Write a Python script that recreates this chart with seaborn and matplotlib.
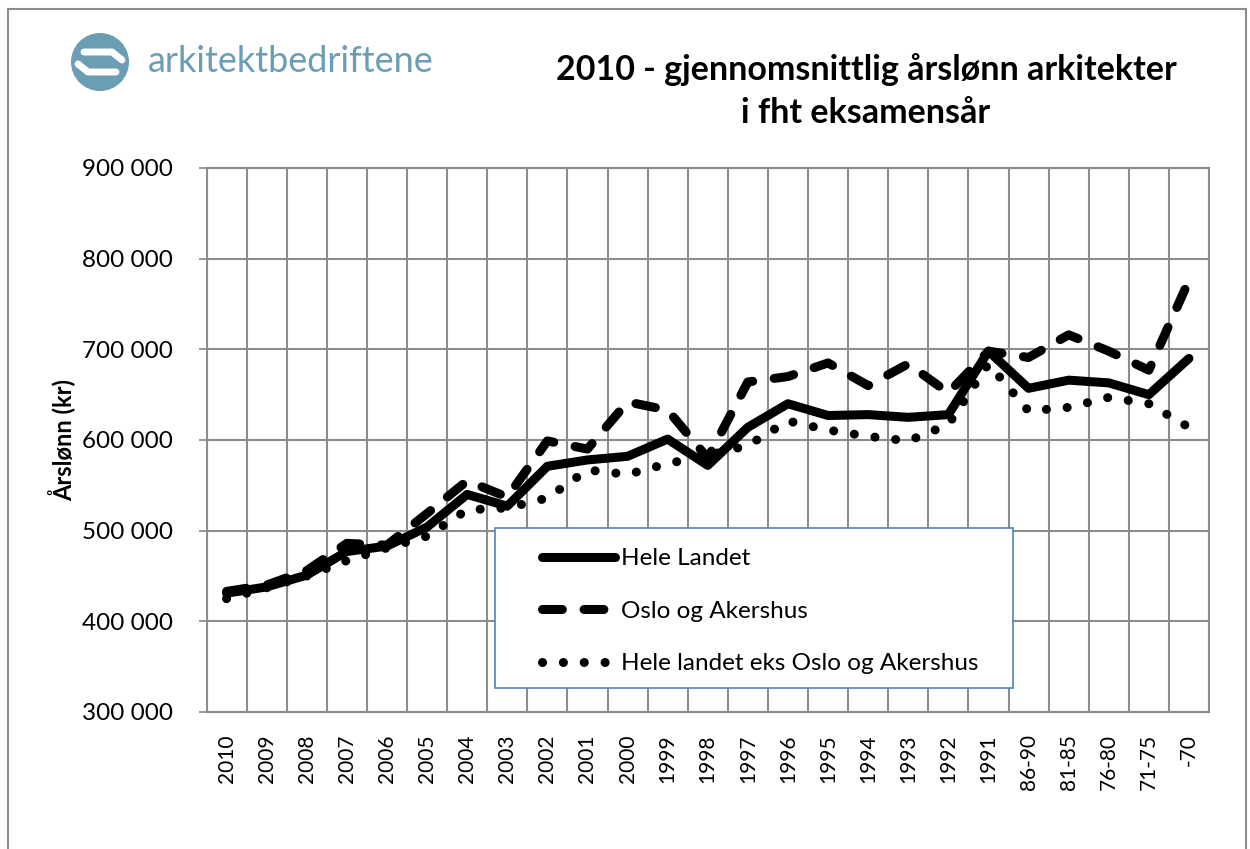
import matplotlib
matplotlib.use("Agg")
import matplotlib.pyplot as plt
import matplotlib.patches as mpatches
from matplotlib.lines import Line2D
from matplotlib.ticker import FuncFormatter, FixedLocator
import seaborn as sns
import numpy as np
import pandas as pd

# categories (eksamensår) and the three series
years = ['2010', '2009', '2008', '2007', '2006', '2005', '2004', '2003', '2002', '2001',
         '2000', '1999', '1998', '1997', '1996', '1995', '1994', '1993', '1992', '1991',
         '86-90', '81-85', '76-80', '71-75', '-70']
hele_landet = [431000, 438000, 451000, 477000, 483000, 504000, 540000, 527000, 571000, 578000,
               582000, 601000, 572000, 614000, 640000, 627000, 628000, 625000, 628000, 698000,
               657000, 666000, 663000, 650000, 690000]
oslo_akershus = [433000, 440000, 456000, 486000, 484000, 519000, 555000, 537000, 599000, 590000,
                 642000, 633000, 580000, 664000, 670000, 685000, 660000, 684000, 652000, 698000,
                 691000, 716000, 698000, 677000, 776000]
eks_oslo = [425000, 437000, 450000, 467000, 481000, 494000, 523000, 525000, 536000, 567000,
            562000, 574000, 583000, 594000, 621000, 611000, 604000, 599000, 617000, 684000,
            632000, 636000, 647000, 640000, 614000]
series_names = ['Hele Landet', 'Oslo og Akershus', 'Hele landet eks Oslo og Akershus']

sns.set_theme(style='white', rc={'text.color': 'black', 'axes.labelcolor': 'black',
                                 'xtick.color': 'black', 'ytick.color': 'black'})
plt.rcParams['font.family'] = ['Lato', 'DejaVu Sans']

W, H = 1250, 849
fig = plt.figure(figsize=(W / 100, H / 100), dpi=100)
ax = fig.add_axes([206.5 / W, 1 - 712 / H, (1209 - 206.5) / W, (712 - 168) / H])

lw = 6.5
styles = {
    'Hele Landet': dict(linestyle='-'),
    'Oslo og Akershus': dict(linestyle=(0, (2.2, 2.4))),
    'Hele landet eks Oslo og Akershus': dict(linestyle=(0, (0.01, 2.3))),
}
x = np.arange(len(years))
for name, vals in zip(series_names, [hele_landet, oslo_akershus, eks_oslo]):
    df = pd.DataFrame({'x': x, 'y': vals})
    sns.lineplot(data=df, x='x', y='y', ax=ax, color='black', lw=lw, sort=False,
                 legend=False, **styles[name])
for ln in ax.lines:
    ln.set_dash_capstyle('round')
    ln.set_solid_capstyle('round')
    ln.set_solid_joinstyle('round')
    ln.set_dash_joinstyle('round')

ax.set_xlim(-0.5, len(years) - 0.5)
ax.set_ylim(300000, 900000)
ax.set_yticks(np.arange(300000, 900001, 100000))
ax.yaxis.set_major_formatter(FuncFormatter(lambda v, p: f"{v:,.0f}".replace(',', ' ')))
ax.set_xticks(x)
ax.set_xticklabels(years, rotation=90, fontsize=15)
ax.xaxis.set_minor_locator(FixedLocator(np.arange(-0.5, len(years), 1.0)))
ax.tick_params(axis='x', which='both', length=0, pad=16, labelcolor='black')
ax.tick_params(axis='y', which='major', length=6, color='#8c8c8c', labelsize=17.5, pad=18,
               left=True, labelcolor='black')
ax.grid(axis='y', which='major', color='#8c8c8c', lw=1.5)
ax.grid(axis='x', which='minor', color='#8c8c8c', lw=1.5)
ax.grid(axis='x', which='major', visible=False)
for s in ax.spines.values():
    s.set_color('#8c8c8c')
    s.set_linewidth(1.5)
ax.set_xlabel('')
ax.set_ylabel('Årslønn (kr)', fontsize=17, fontweight='bold', labelpad=4, color='black')

# legend with its own box
fig.patches.append(mpatches.Rectangle((495 / W, 1 - 688 / H), (1013 - 495) / W, (688 - 528) / H,
                                      transform=fig.transFigure, facecolor='white',
                                      edgecolor='#4f81bd', lw=1.2, zorder=5))
handles = [Line2D([0], [0], color='black', lw=lw, solid_capstyle='round', dash_capstyle='round',
                  **styles[n]) for n in series_names]
leg = fig.legend(handles, series_names, loc='upper left', bbox_to_anchor=(530 / W, 1 - 536 / H),
                 frameon=False, fontsize=17.5, handlelength=3.0, handletextpad=0.25,
                 labelspacing=1.3, borderpad=0, labelcolor='black')
leg.set_zorder(6)

# title
fig.text(866 / W, 1 - 70 / H, '2010 - gjennomsnittlig årslønn arkitekter', ha='center', va='center',
         fontsize=24.5, fontweight='bold', color='black')
fig.text(866 / W, 1 - 113 / H, 'i fht eksamensår', ha='center', va='center',
         fontsize=24.5, fontweight='bold', color='black')

# logo
logo_c = '#6b9db3'
fig.patches.append(mpatches.Ellipse((100 / W, 1 - 62 / H), 58 / W, 58 / H, transform=fig.transFigure,
                                    facecolor=logo_c, edgecolor='none'))
fig.lines.append(Line2D([84 / W, 112 / W, 122 / W], [1 - 52 / H, 1 - 52 / H, 1 - 60 / H],
                        transform=fig.transFigure, color='white', lw=5, solid_capstyle='round',
                        solid_joinstyle='round'))
fig.lines.append(Line2D([78 / W, 88 / W, 116 / W], [1 - 64 / H, 1 - 72 / H, 1 - 72 / H],
                        transform=fig.transFigure, color='white', lw=5, solid_capstyle='round',
                        solid_joinstyle='round'))
fig.text(148 / W, 1 - 62 / H, 'arkitektbedriftene', ha='left', va='center', fontsize=26,
         color=logo_c)

# outer frame
fig.patches.append(mpatches.Rectangle((8 / W, -0.05), (1246 - 8) / W, 1.05 - 9 / H,
                                      transform=fig.transFigure, facecolor='none',
                                      edgecolor='#8c8c8c', lw=1.5))

fig.savefig('out.png', dpi=100)
